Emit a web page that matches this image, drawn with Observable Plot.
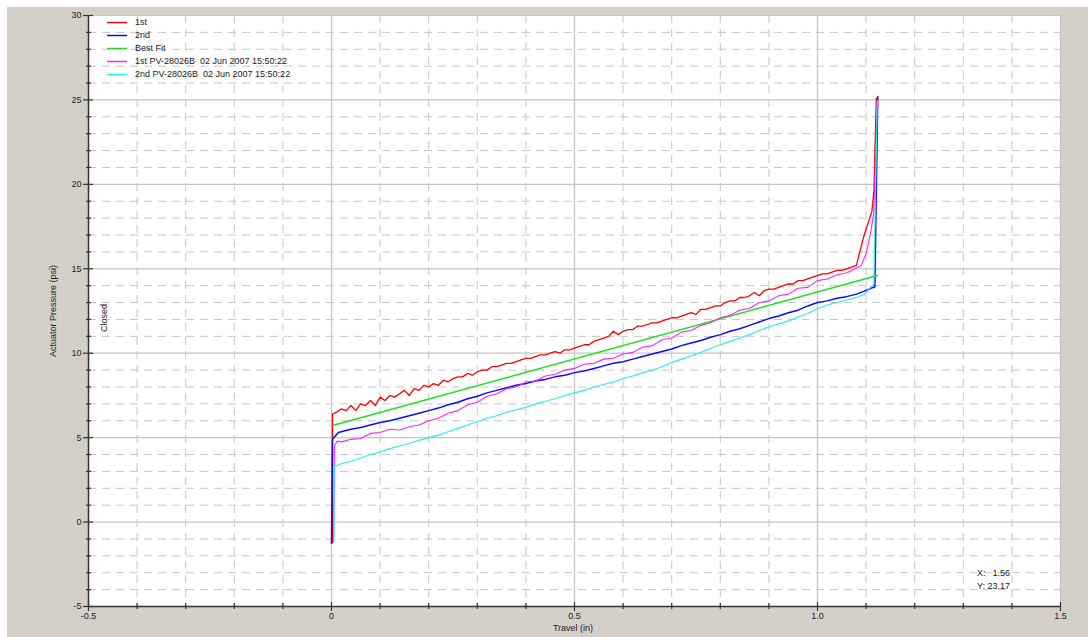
<!DOCTYPE html>
<html><head><meta charset="utf-8">
<script src="https://cdn.jsdelivr.net/npm/d3@7"></script>
<script src="https://cdn.jsdelivr.net/npm/@observablehq/plot@0.6"></script>
<style>
body{margin:0;background:#fff;font-family:"Liberation Sans",Arial,sans-serif;}
#wrap{position:absolute;left:7px;top:7px;width:1081px;height:630px;background:#d4d0c8;overflow:hidden}
.ov{position:absolute;font-size:9px;color:#222;white-space:pre;line-height:1}
</style></head><body>
<div id="wrap"></div>
<script>
// ---- axes / ticks ----
const xDomain = [-0.5, 1.5];
const yDomain = [-5, 30];
const xMajor = [-0.5, 0, 0.5, 1.0, 1.5];
const xMajorLabels = ["-0.5", "0", "0.5", "1.0", "1.5"];
const xMinor = [-0.4,-0.3,-0.2,-0.1,0.1,0.2,0.3,0.4,0.6,0.7,0.8,0.9,1.1,1.2,1.3,1.4];
const yMajor = [-5, 0, 5, 10, 15, 20, 25, 30];
const yMinor = [-4,-3,-2,-1,1,2,3,4,6,7,8,9,11,12,13,14,16,17,18,19,21,22,23,24,26,27,28,29];

// ---- series names / colours ----
const seriesNames = ["1st", "2nd", "Best Fit", "1st PV-28026B  02 Jun 2007 15:50:22", "2nd PV-28026B  02 Jun 2007 15:50:22"];
const seriesColors = ["#ff0000", "#0a0aff", "#1ee01e", "#ff22ff", "#22eeee"];

// ---- travel grids ----
const travel01 = [0.01,0.02,0.03,0.04,0.05,0.06,0.07,0.08,0.09,0.10,
 0.11,0.12,0.13,0.14,0.15,0.16,0.17,0.18,0.19,0.20,
 0.21,0.22,0.23,0.24,0.25,0.26,0.27,0.28,0.29,0.30,
 0.31,0.32,0.33,0.34,0.35,0.36,0.37,0.38,0.39,0.40,
 0.41,0.42,0.43,0.44,0.45,0.46,0.47,0.48,0.49,0.50,
 0.51,0.52,0.53,0.54,0.55,0.56,0.57,0.58,0.59,0.60,
 0.61,0.62,0.63,0.64,0.65,0.66,0.67,0.68,0.69,0.70,
 0.71,0.72,0.73,0.74,0.75,0.76,0.77,0.78,0.79,0.80,
 0.81,0.82,0.83,0.84,0.85,0.86,0.87,0.88,0.89,0.90,
 0.91,0.92,0.93,0.94,0.95,0.96,0.97,0.98,0.99,1.00,
 1.01,1.02,1.03,1.04,1.05,1.06,1.07,1.08];
const travel02 = [0.02,0.04,0.06,0.08,0.10,0.12,0.14,0.16,0.18,0.20,
 0.22,0.24,0.26,0.28,0.30,0.32,0.34,0.36,0.38,0.40,
 0.42,0.44,0.46,0.48,0.50,0.52,0.54,0.56,0.58,0.60,
 0.62,0.64,0.66,0.68,0.70,0.72,0.74,0.76,0.78,0.80,
 0.82,0.84,0.86,0.88,0.90,0.92,0.94,0.96,0.98,1.00,
 1.02,1.04,1.06,1.08];

// ---- 1st (red) ----
const redTravel = [0.002, 0.002, ...travel01, 1.095, 1.112, 1.116, 1.121, 1.124];
const redPsi = [-1.2, 6.4,
 6.5,6.7,6.6,6.9,6.6,7.0,6.9,7.2,6.9,7.4,
 7.2,7.5,7.4,7.6,7.8,7.5,7.9,7.8,8.1,8.0,
 8.2,8.1,8.4,8.3,8.5,8.6,8.6,8.8,8.7,8.9,
 9.0,9.0,9.2,9.2,9.3,9.4,9.4,9.5,9.6,9.7,
 9.7,9.8,9.9,9.9,10.0,10.1,10.0,10.2,10.2,10.3,
 10.4,10.5,10.5,10.7,10.8,10.9,11.0,11.3,11.1,11.3,
 11.4,11.4,11.6,11.6,11.7,11.8,11.8,11.9,12.0,12.1,
 12.1,12.2,12.3,12.4,12.3,12.6,12.6,12.7,12.8,12.8,
 13.0,13.1,13.1,13.3,13.3,13.4,13.6,13.4,13.7,13.8,
 13.8,13.9,14.0,14.1,14.1,14.3,14.3,14.4,14.5,14.6,
 14.7,14.7,14.8,14.9,14.9,15.0,15.1,15.2,
 16.9, 18.4, 19.6, 25.1, 24.7];

// ---- 2nd (blue) ----
const blueTravel = [0, 0.002, 0.014, ...travel02, 1.095, 1.118, 1.124];
const bluePsi = [-1.27, 4.9, 5.3,
 5.35,5.5,5.6,5.75,5.9,6.0,6.15,6.3,6.45,6.6,
 6.75,6.95,7.1,7.3,7.45,7.65,7.8,7.95,8.1,8.2,
 8.35,8.45,8.6,8.7,8.85,8.95,9.1,9.25,9.4,9.5,
 9.65,9.8,9.95,10.1,10.25,10.45,10.6,10.75,10.95,11.1,
 11.3,11.45,11.65,11.85,12.05,12.2,12.4,12.55,12.8,13.0,
 13.1,13.25,13.35,13.5,
 13.66, 13.94, 25.2];

// ---- Best Fit (green) ----
const fitTravel = [0, 1.123];
const fitPsi = [5.7, 14.6];

// ---- 1st PV (magenta) ----
const magTravel = [0.004, 0.006, 0.012, ...travel02, 1.09, 1.1, 1.109, 1.116, 1.123, 1.125];
const magPsi = [-1.2, 4.5, 4.8,
 4.75,4.9,4.95,5.25,5.3,5.5,5.45,5.65,5.75,6.0,
 6.15,6.45,6.6,6.95,7.1,7.45,7.6,7.9,8.0,8.3,
 8.35,8.65,8.75,9.0,9.1,9.35,9.4,9.65,9.7,9.95,
 10.05,10.35,10.45,10.8,10.9,11.25,11.35,11.65,11.8,12.1,
 12.25,12.55,12.65,13.0,13.1,13.4,13.5,13.85,13.9,14.3,
 14.4,14.65,14.75,15.05,
 15.2, 15.9, 17.1, 18.3, 24.9, 24.6];

// ---- 2nd PV (cyan) ----
const cyanTravel = [0.005, 0.006, 0.015, ...travel02, 1.095, 1.116, 1.123];
const cyanPsi = [-1.1, 3.3, 3.4,
 3.45,3.6,3.8,4.0,4.15,4.35,4.5,4.65,4.85,5.0,
 5.15,5.35,5.55,5.75,5.95,6.15,6.3,6.5,6.65,6.8,
 7.0,7.15,7.3,7.5,7.65,7.8,8.0,8.15,8.3,8.5,
 8.65,8.85,9.0,9.2,9.45,9.65,9.85,10.05,10.3,10.5,
 10.7,10.9,11.1,11.35,11.55,11.75,11.9,12.15,12.35,12.65,
 12.85,13.0,13.15,13.3,
 13.46, 14.1, 25.0];

const readoutX = "1.56";
const readoutY = "23.17";

// ---- build ----
const seriesTravel = [redTravel, blueTravel, fitTravel, magTravel, cyanTravel];
const seriesPsi = [redPsi, bluePsi, fitPsi, magPsi, cyanPsi];
const seriesWidths = [1.3, 1.5, 1.5, 1.1, 1.1];
const series = seriesNames.map((name, k) => ({
  name, color: seriesColors[k], width: seriesWidths[k],
  rows: seriesTravel[k].map((t, i) => ({t, p: seriesPsi[k][i]}))
}));

const W = 1081, H = 630, mL = 81, mR = 28, mT = 8, mB = 31;
const plotW = W - mL - mR, plotH = H - mT - mB;
const axisColor = "#333";

const chart = Plot.plot({
  width: W, height: H, marginLeft: mL, marginRight: mR, marginTop: mT, marginBottom: mB,
  x: {domain: xDomain, axis: null},
  y: {domain: yDomain, axis: null},
  style: {background: "transparent", fontFamily: "Liberation Sans, Arial, sans-serif", fontSize: "9px", color: "#222", overflow: "visible"},
  marks: [
    Plot.frame({fill: "white", stroke: "none"}),
    Plot.ruleX(xMinor, {x: d => d, stroke: "#c6c6c6", strokeDasharray: "8,6"}),
    Plot.ruleY(yMinor, {y: d => d, stroke: "#c6c6c6", strokeDasharray: "8,6"}),
    Plot.ruleX(xMajor, {x: d => d, stroke: "#c4c4c4", strokeWidth: 1.2}),
    Plot.ruleY(yMajor, {y: d => d, stroke: "#c4c4c4", strokeWidth: 1.2}),
    ...series.map(s => Plot.line(s.rows, {x: "t", y: "p", stroke: s.color, strokeWidth: s.width, curve: "linear"})),
    Plot.ruleX([xDomain[0]], {x: d => d, stroke: axisColor, strokeWidth: 1.5}),
    Plot.ruleY([yDomain[0]], {y: d => d, stroke: axisColor, strokeWidth: 1.5}),
    Plot.tickY(yMinor, {y: d => d, insetLeft: -2, insetRight: plotW - 3, stroke: axisColor, strokeWidth: 1.2}),
    Plot.tickY(yMajor, {y: d => d, insetLeft: -5, insetRight: plotW - 5, stroke: axisColor, strokeWidth: 1.2}),
    Plot.tickX(xMinor, {x: d => d, insetTop: plotH - 3, insetBottom: -3, stroke: axisColor, strokeWidth: 1.2}),
    Plot.tickX(xMajor, {x: d => d, insetTop: plotH - 4, insetBottom: -5, stroke: axisColor, strokeWidth: 1.2}),
    Plot.text(yMajor, {y: d => d, frameAnchor: "left", dx: -7, textAnchor: "end", text: d => String(d), fill: "#222"}),
    Plot.text(xMajor, {x: d => d, frameAnchor: "bottom", dy: 12, text: (d, i) => xMajorLabels[i], fill: "#222"})
  ]
});
const wrap = document.getElementById("wrap");
wrap.appendChild(chart);

function ov(text, css) {
  const d = document.createElement("div");
  d.className = "ov";
  d.textContent = text;
  Object.assign(d.style, css);
  wrap.appendChild(d);
  return d;
}
// axis titles
ov("Actuator Pressure (psi)", {left: "46px", top: "304px", transform: "translate(-50%,-50%) rotate(-90deg)"});
ov("Travel (in)", {left: "566px", top: "621px", transform: "translate(-50%,-50%)"});
ov("Closed", {left: "97px", top: "311px", transform: "translate(-50%,-50%) rotate(-90deg)"});
// readout
ov("X:", {left: "970px", top: "562px"});
ov(readoutX, {right: (1081 - 1003) + "px", top: "562px"});
ov("Y:", {left: "970px", top: "575px"});
ov(readoutY, {right: (1081 - 1003) + "px", top: "575px"});
// legend
const NS = "http://www.w3.org/2000/svg";
const lg = document.createElementNS(NS, "svg");
lg.setAttribute("width", 30); lg.setAttribute("height", 80);
Object.assign(lg.style, {position: "absolute", left: "95px", top: "0px"});
wrap.appendChild(lg);
series.forEach((s, k) => {
  const cy = Math.round(14.7 + k * 13.1);
  const ln = document.createElementNS(NS, "line");
  ln.setAttribute("x1", 5); ln.setAttribute("x2", 25);
  ln.setAttribute("y1", cy + 0.5); ln.setAttribute("y2", cy + 0.5);
  ln.setAttribute("stroke", s.color); ln.setAttribute("stroke-width", 1.5);
  lg.appendChild(ln);
  ov(s.name, {left: "128px", top: (cy - 4) + "px"});
});
</script>
</body></html>
